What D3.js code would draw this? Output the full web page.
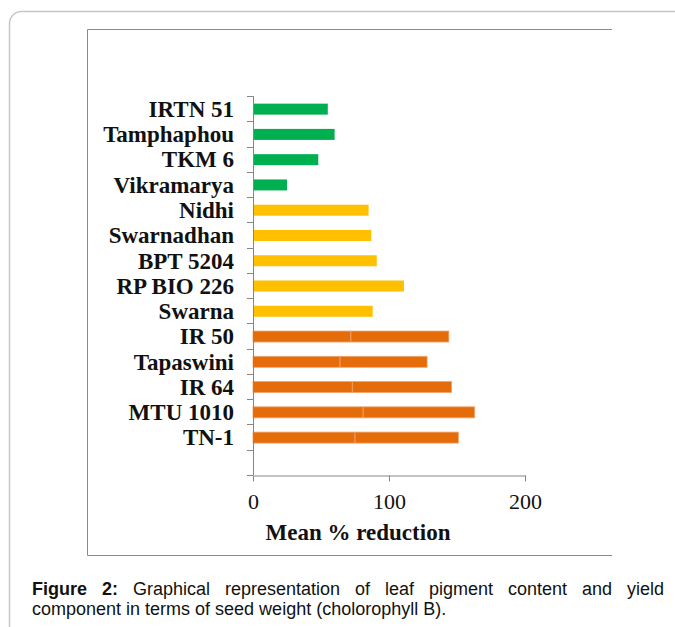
<!DOCTYPE html>
<html>
<head>
<meta charset="utf-8">
<script src="https://cdn.jsdelivr.net/npm/d3@7"></script>
<style>
  body { margin: 0; background: #fff; }
  svg { display: block; }
</style>
</head>
<body>
<div id="chart"></div>
<script>
const width = 675;
const height = 627;

// varieties, top to bottom as drawn
const categories = ['IRTN 51', 'Tamphaphou', 'TKM 6', 'Vikramarya', 'Nidhi', 'Swarnadhan',
  'BPT 5204', 'RP BIO 226', 'Swarna', 'IR 50', 'Tapaswini', 'IR 64', 'MTU 1010', 'TN-1'];
const meanReduction = [55, 60, 48, 25, 85, 87, 91, 111, 88, 144, 128, 146, 163, 151];
// orange bars are drawn as two stacked pieces; where the first piece stops
const firstPiece = [null, null, null, null, null, null, null, null, null, 72, 64, 73, 81, 75];
const groups = ['g', 'g', 'g', 'g', 'y', 'y', 'y', 'y', 'y', 'o', 'o', 'o', 'o', 'o'];
const xTicks = [0, 100, 200];

const colors = { g: '#00b050', y: '#ffc000', o: '#e46c0a' };
const axisColor = '#868686';
const serif = '"Liberation Serif", "Times New Roman", serif';

const plot = { left: 253, right: 525, top: 96, bottom: 475 };

const svg = d3.select('#chart')
  .append('svg')
  .attr('width', width)
  .attr('height', height);

// outer rounded panel + inner figure frame
svg.append('rect')
  .attr('x', 9.5).attr('y', 11.5)
  .attr('width', 720).attr('height', 720)
  .attr('rx', 12)
  .attr('fill', 'none')
  .attr('stroke', '#c4c8c8')
  .attr('stroke-width', 1.5);

svg.append('path')
  .attr('d', 'M612,29.5H87.5V555.5H612')
  .attr('fill', 'none')
  .attr('stroke', '#8a8a8a');

// one empty slot at the bottom, like the original sheet
const slots = categories.concat(['']);

const y = d3.scaleBand()
  .domain(slots)
  .range([plot.top, plot.bottom])
  .paddingInner(0)
  .paddingOuter(0);

const x = d3.scaleLinear()
  .domain([0, 200])
  .range([plot.left, plot.right]);

const barH = 11;

const rows = categories.map((c, i) => ({
  name: c, value: meanReduction[i], split: firstPiece[i], group: groups[i]
}));

const bars = svg.append('g');

bars.selectAll('rect.single')
  .data(rows.filter(d => d.split == null))
  .join('rect')
    .attr('class', 'single')
    .attr('x', x(0))
    .attr('y', d => y(d.name) + (y.bandwidth() - barH) / 2 + 0.5)
    .attr('width', d => x(d.value) - x(0))
    .attr('height', barH)
    .attr('fill', d => colors[d.group]);

const stacked = rows.filter(d => d.split != null);
const pieces = stacked.flatMap(d => [
  { name: d.name, from: 0, to: d.split, group: d.group },
  { name: d.name, from: d.split, to: d.value, group: d.group }
]);

bars.selectAll('rect.piece')
  .data(pieces)
  .join('rect')
    .attr('class', 'piece')
    .attr('x', d => x(d.from))
    .attr('y', d => y(d.name) + (y.bandwidth() - barH) / 2 + 0.5)
    .attr('width', d => x(d.to) - x(d.from))
    .attr('height', barH)
    .attr('fill', d => colors[d.group])
    .attr('stroke', '#f0a46a')
    .attr('stroke-width', 0.8);

// category axis: line with ticks between categories
const yAxis = svg.append('g');
yAxis.append('line')
  .attr('x1', plot.left + 0.5).attr('x2', plot.left + 0.5)
  .attr('y1', plot.top).attr('y2', plot.bottom)
  .attr('stroke', axisColor);
yAxis.selectAll('line.tick')
  .data(slots.map(s => y(s)).concat([plot.bottom]))
  .join('line')
    .attr('class', 'tick')
    .attr('x1', plot.left - 6).attr('x2', plot.left)
    .attr('y1', d => Math.round(d) + 0.5).attr('y2', d => Math.round(d) + 0.5)
    .attr('stroke', axisColor);

yAxis.selectAll('text')
  .data(categories)
  .join('text')
    .attr('x', 234)
    .attr('y', d => y(d) + y.bandwidth() / 2)
    .attr('dy', '0.36em')
    .attr('text-anchor', 'end')
    .attr('font-family', serif)
    .attr('font-weight', 'bold')
    .attr('font-size', 23)
    .attr('fill', '#111')
    .text(d => d);

// value axis
const xAxis = svg.append('g')
  .attr('transform', `translate(0,${plot.bottom + 0.5})`)
  .call(d3.axisBottom(x).tickValues(xTicks).tickSize(6).tickSizeOuter(0).tickPadding(12));
xAxis.select('.domain').attr('stroke', axisColor);
xAxis.selectAll('.tick line').attr('stroke', axisColor);
xAxis.selectAll('.tick text')
  .attr('font-family', serif)
  .attr('font-size', 22)
  .attr('fill', '#111');

svg.append('text')
  .attr('x', 358)
  .attr('y', 540)
  .attr('text-anchor', 'middle')
  .attr('font-family', serif)
  .attr('font-weight', 'bold')
  .attr('font-size', 23)
  .attr('fill', '#111')
  .text('Mean % reduction');

// caption, first line justified
const capFont = '"Liberation Sans", Arial, sans-serif';
const line1 = [
  { t: 'Figure', b: true }, { t: '2:', b: true }, { t: 'Graphical' }, { t: 'representation' },
  { t: 'of' }, { t: 'leaf' }, { t: 'pigment' }, { t: 'content' }, { t: 'and' }, { t: 'yield' }
];
const capLeft = 32, capRight = 664;
const cap = svg.append('g')
  .attr('font-family', capFont)
  .attr('font-size', 18)
  .attr('fill', '#111');

const words = cap.selectAll('text.w')
  .data(line1)
  .join('text')
    .attr('class', 'w')
    .attr('y', 595)
    .attr('font-weight', d => d.b ? 'bold' : 'normal')
    .text(d => d.t);
const widths = words.nodes().map(n => n.getComputedTextLength());
const gap = (capRight - capLeft - d3.sum(widths)) / (line1.length - 1);
let cx = capLeft;
words.attr('x', (d, i) => { const p = cx; cx += widths[i] + gap; return p; });

cap.append('text')
  .attr('x', capLeft)
  .attr('y', 615)
  .text('component in terms of seed weight (cholorophyll B).');
</script>
</body>
</html>
